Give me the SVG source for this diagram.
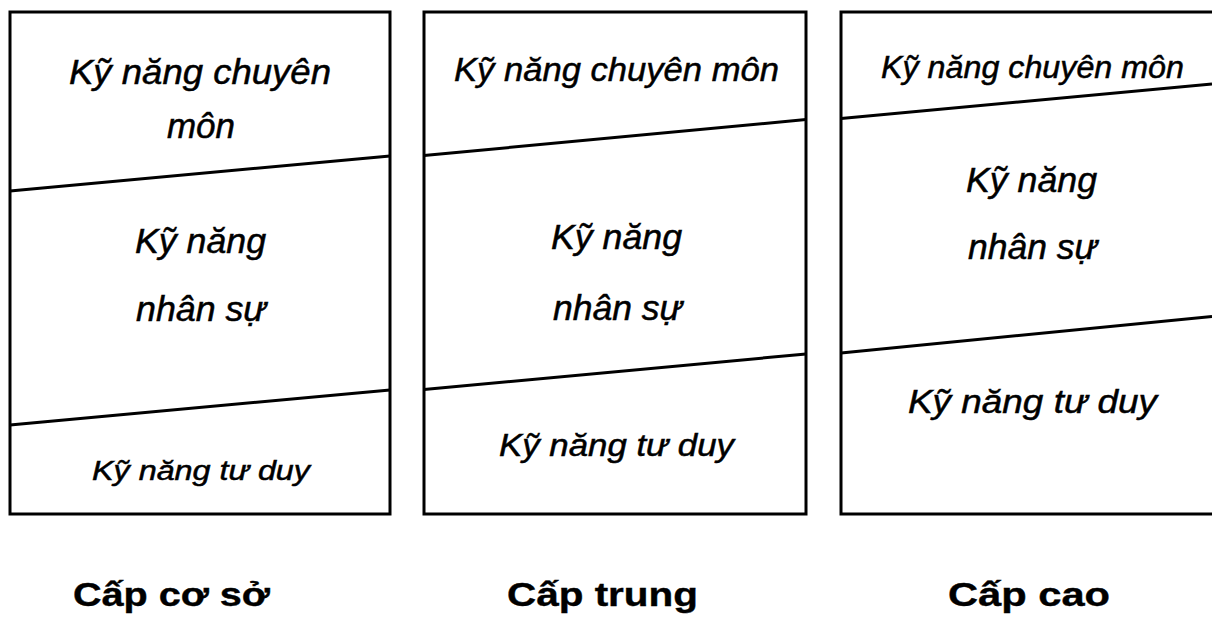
<svg xmlns="http://www.w3.org/2000/svg" width="1212" height="618" viewBox="0 0 1212 618">
<style>
.box{fill:#fff;stroke:#000;stroke-width:3}
.div{stroke:#000;stroke-width:3;fill:none}
.it{font-family:"Liberation Sans",Arial,sans-serif;font-style:italic;fill:#000;stroke:#000;stroke-width:0.5}
.lb{font-family:"Liberation Sans",Arial,sans-serif;font-weight:bold;font-size:34px;fill:#000;stroke:#000;stroke-width:0.4}
</style>
<rect width="1212" height="618" fill="#fff"/>
<g id="cap-co-so">
<rect class="box" x="10" y="12" width="380" height="502"/>
<text class="it" font-size="35" x="69" y="83.5" textLength="262" lengthAdjust="spacingAndGlyphs">Kỹ năng chuyên</text>
<text class="it" font-size="35" x="167" y="138" textLength="68" lengthAdjust="spacingAndGlyphs">môn</text>
<text class="it" font-size="35" x="135" y="252.5" textLength="131" lengthAdjust="spacingAndGlyphs">Kỹ năng</text>
<text class="it" font-size="35" x="136" y="321" textLength="130" lengthAdjust="spacingAndGlyphs">nhân sự</text>
<text class="it" font-size="27" x="92" y="480" textLength="218" lengthAdjust="spacingAndGlyphs">Kỹ năng tư duy</text>
<text class="lb" x="73" y="606" textLength="197" lengthAdjust="spacingAndGlyphs">Cấp cơ sở</text>
</g>
<g id="cap-trung">
<rect class="box" x="424" y="12" width="382" height="502"/>
<text class="it" font-size="34" x="454" y="81" textLength="325" lengthAdjust="spacingAndGlyphs">Kỹ năng chuyên môn</text>
<text class="it" font-size="35" x="551" y="249" textLength="131" lengthAdjust="spacingAndGlyphs">Kỹ năng</text>
<text class="it" font-size="35" x="553" y="320" textLength="129" lengthAdjust="spacingAndGlyphs">nhân sự</text>
<text class="it" font-size="31" x="499" y="456" textLength="235" lengthAdjust="spacingAndGlyphs">Kỹ năng tư duy</text>
<text class="lb" x="507" y="606" textLength="191" lengthAdjust="spacingAndGlyphs">Cấp trung</text>
</g>
<g id="cap-cao">
<rect class="box" x="841" y="12" width="382" height="502"/>
<text class="it" font-size="31" x="881" y="77.5" textLength="303" lengthAdjust="spacingAndGlyphs">Kỹ năng chuyên môn</text>
<text class="it" font-size="35" x="966" y="192" textLength="131" lengthAdjust="spacingAndGlyphs">Kỹ năng</text>
<text class="it" font-size="35" x="968" y="259" textLength="129" lengthAdjust="spacingAndGlyphs">nhân sự</text>
<text class="it" font-size="34" x="908" y="412.5" textLength="249" lengthAdjust="spacingAndGlyphs">Kỹ năng tư duy</text>
<text class="lb" x="948" y="606" textLength="162" lengthAdjust="spacingAndGlyphs">Cấp cao</text>
</g>
<g id="connectors">
<line class="div" x1="10" y1="191" x2="390" y2="156"/>
<line class="div" x1="10" y1="425" x2="390" y2="390"/>
<line class="div" x1="424" y1="155.5" x2="806" y2="119.5"/>
<line class="div" x1="424" y1="389.5" x2="806" y2="354"/>
<line class="div" x1="841" y1="118.5" x2="1212" y2="84"/>
<line class="div" x1="841" y1="353" x2="1212" y2="316.5"/>
</g>
</svg>
